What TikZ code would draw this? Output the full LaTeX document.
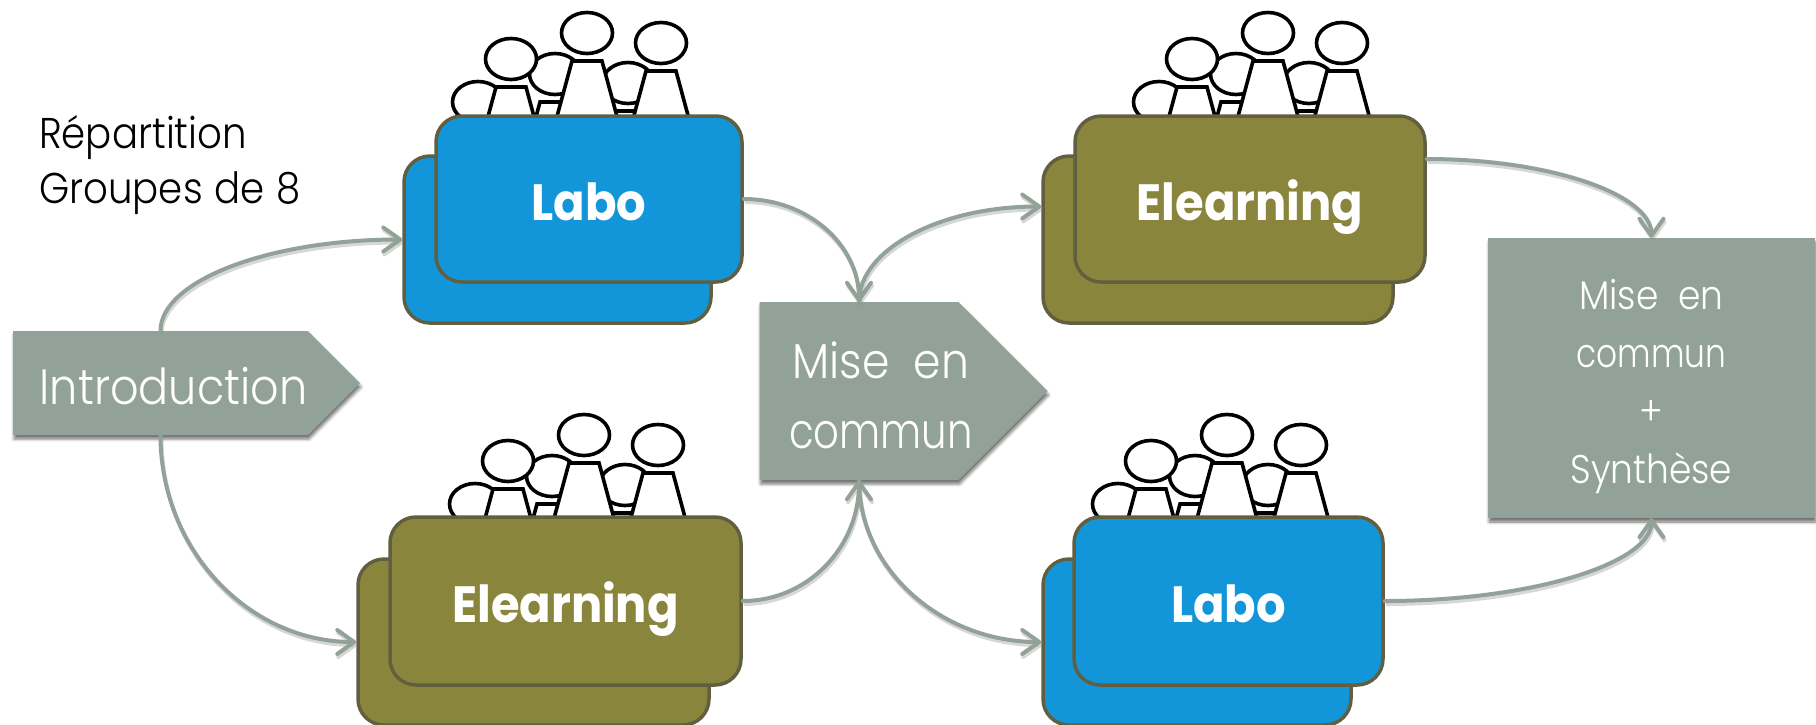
\documentclass[tikz,border=0pt]{standalone}
\usepackage{fontspec}
\setmainfont{Poppins Light}[FakeStretch=0.9, WordSpace=2]
\newfontfamily\headfont{Poppins Bold}[FakeStretch=0.91]
\newfontfamily\notefont{Poppins Light}[FakeStretch=0.9, WordSpace=1.1]
\usetikzlibrary{arrows.meta,shapes.symbols,shadows.blur}
\definecolor{sage}{HTML}{93A299}
\definecolor{labofill}{HTML}{1296D9}
\definecolor{elearnfill}{HTML}{8A853D}
\definecolor{cardline}{HTML}{625F40}
\tikzset{
  card/.style={draw=cardline, line width=3.5pt, rounded corners=26pt, inner sep=0pt, text=white, text height=43pt, text depth=0pt, font=\headfont\fontsize{51}{60}\selectfont},
  labocard/.style={card, fill=labofill},
  elearncard/.style={card, fill=elearnfill},
  boxshadow/.style={blur shadow={shadow xshift=1pt, shadow yshift=-4pt, shadow blur radius=3pt, shadow opacity=55}},
  stepbox/.style={fill=sage, boxshadow, inner sep=0pt},
  homebox/.style={stepbox, signal, signal to=east, signal pointer angle=90},
  steptext/.style={inner sep=0pt, text=white, align=center},
  plaintext/.style={anchor=base west, inner sep=0pt, text=black, font=\notefont\fontsize{43}{50}\selectfont},
  link/.style={draw=sage, line width=4pt, line cap=round, -{Straight Barb[length=17pt,width=24pt,round]},
    preaction={draw=black!45, opacity=.35, line width=4pt, transform canvas={shift={(1pt,-3pt)}}}},
  person/.style={draw=black, fill=white, line width=3.6pt, line join=miter}
}
% the word is set tighter than the rest of the label
\newcommand{\communword}{{\addfontfeature{FakeStretch=0.82}commun}}
% one person: head and body, body runs on under the card
\newcommand{\personfig}[2]{
  \draw[person] (#1-15,#2+28) -- (#1+15,#2+28) -- (#1+38,#2+113) -- (#1-38,#2+113) -- cycle;
  \draw[person] (#1,#2) ellipse (25.5pt and 20.5pt);
}
\newcommand{\peoplegroup}[2]{
  \begin{scope}[shift={(#1,#2)}]
    \personfig{-109}{69}
    \personfig{-32}{41}
    \personfig{41}{50}
    \personfig{-76}{26}
    \personfig{0}{0}
    \personfig{74}{10}
  \end{scope}
}
\begin{document}
\begin{tikzpicture}[x=1pt, y=-1pt]
  \useasboundingbox (0,0) rectangle (1816,724);

  % Intro text
  \node[plaintext] (split) at (39,148) {Répartition};
  \node[plaintext] (groups) at (39,203) {Groupes de 8};

  % People behind the cards
  \peoplegroup{587}{33}
  \peoplegroup{1268}{33}
  \peoplegroup{584}{435}
  \peoplegroup{1227}{435}

  % Cards, back one first
  \node[labocard, minimum width=307pt, minimum height=167pt] (laboAback) at (557.5,239.5) {};
  \node[labocard, minimum width=306pt, minimum height=166pt] (laboA) at (589,199) {Labo};
  \node[elearncard, minimum width=350pt, minimum height=167pt] (elearnAback) at (1218,239.5) {};
  \node[elearncard, minimum width=350pt, minimum height=166pt] (elearnA) at (1250,199) {Elearning};
  \node[elearncard, minimum width=351pt, minimum height=166pt] (elearnBback) at (533.5,642) {};
  \node[elearncard, minimum width=351pt, minimum height=168pt] (elearnB) at (565.5,601) {Elearning};
  \node[labocard, minimum width=308pt, minimum height=166pt] (laboBback) at (1197,642) {};
  \node[labocard, minimum width=309pt, minimum height=168pt] (laboB) at (1228.5,601) {Labo};

  % Steps
  \node[homebox, minimum width=347pt, minimum height=104pt] (intro) at (160.5,383) {};
  \node[steptext, font=\fontsize{49.5}{60}\selectfont] (introtext) at ([xshift=13pt,yshift=-3pt]intro) {Introduction};
  \node[homebox, minimum width=288pt, minimum height=178pt] (mise) at (859,391) {};
  \node[steptext, font=\fontsize{49}{70}\selectfont] (misetext) at ([xshift=22pt,yshift=-4pt]mise) {Mise en\\\communword};
  \node[stepbox, minimum width=327pt, minimum height=280pt] (final) at (1651.5,378) {};
  \node[steptext, font=\fontsize{40}{58}\selectfont] (finaltext) at ([yshift=-9pt]final) {Mise en\\\communword\\+\\Synthèse};

  % Connectors
  \draw[link] (intro.north) .. controls +(0,-50) and +(-133,0) .. (laboAback.west);
  \draw[link] (intro.south) .. controls +(0,114) and +(-108,0) .. (elearnBback.west);
  \draw[link] (laboA.east) .. controls +(64,0) and +(0,-57) .. (mise.north);
  \draw[link] (mise.north) .. controls +(0,-52) and +(-102,0) .. ([yshift=33pt]elearnAback.west);
  \draw[link] (elearnB.east) .. controls +(65,0) and +(0,67) .. (mise.south);
  \draw[link] (mise.south) .. controls +(0,89) and +(-100,0) .. (laboBback.west);
  \draw[link] ([yshift=40pt]elearnA.east) .. controls +(124,0) and +(0,-43) .. (final.north);
  \draw[link] (laboB.east) .. controls +(147,0) and +(0,45) .. (final.south);
\end{tikzpicture}
\end{document}
